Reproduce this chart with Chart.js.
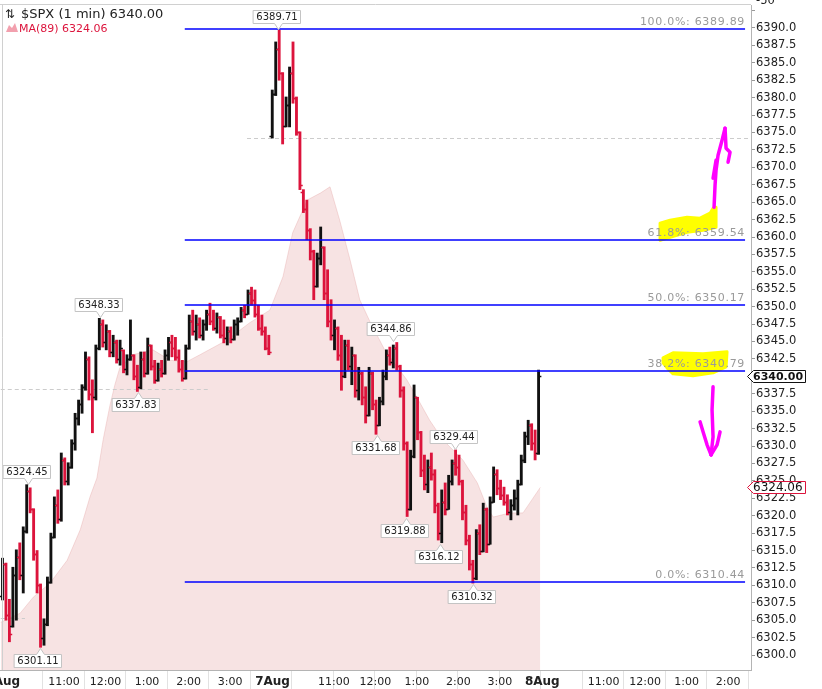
<!DOCTYPE html>
<html>
<head>
<meta charset="utf-8">
<script src="https://cdn.jsdelivr.net/npm/chart.js@4.4.1/dist/chart.umd.min.js"></script>
<style>
  html, body { margin: 0; padding: 0; background: #fff; }
  canvas { display: block; }
</style>
</head>
<body>
<canvas id="spxChart" width="822" height="689"></canvas>
<script>
const opens = [
  6308.5, 6313.0, 6305.8, 6304.2, 6311.5, 6314.0, 6311.5, 6317.8, 6323.5, 6321.0, 6314.5, 6310.0,
  6302.5, 6304.5, 6310.5, 6317.0, 6321.5, 6319.5, 6328.0, 6325.0, 6327.0, 6330.5, 6334.0, 6336.0,
  6338.5, 6342.5, 6337.5, 6337.0, 6344.0, 6347.5, 6345.0, 6346.5, 6343.5, 6345.0, 6342.5, 6343.8,
  6341.0, 6342.5, 6343.0, 6340.0, 6338.5, 6342.5, 6340.5, 6344.5, 6341.5, 6339.5, 6341.0, 6340.5,
  6343.0, 6345.0, 6344.0, 6342.8, 6341.0, 6339.8, 6344.0, 6348.0, 6346.5, 6347.5, 6346.0, 6347.5,
  6349.0, 6348.0, 6347.0, 6348.5, 6346.0, 6345.5, 6346.5, 6345.3, 6347.5, 6348.0, 6349.5, 6349.0,
  6352.0, 6351.0, 6349.0, 6347.0, 6346.5, 6344.0,
  // 7 Aug
  6374.5, 6380.5, 6387.0, 6383.5, 6376.0, 6379.0, 6383.5, 6380.0, 6375.0, 6366.5, 6364.0, 6361.0,
  6358.0, 6353.0, 6357.0, 6358.5, 6352.0, 6348.0, 6346.0, 6347.0, 6343.0, 6340.0, 6344.5, 6341.5,
  6343.0, 6338.0, 6340.5, 6337.0, 6334.5, 6340.5, 6336.0, 6333.0, 6336.5, 6340.0, 6343.0, 6342.0,
  6344.0, 6341.5, 6338.0, 6330.5, 6321.0, 6328.5, 6337.0, 6332.0, 6326.5, 6324.5, 6327.0, 6326.0,
  6321.5, 6317.5, 6322.0, 6321.0, 6325.0, 6327.5, 6327.0, 6325.0, 6320.5, 6316.5, 6313.0, 6311.0,
  6317.5, 6315.0, 6321.0, 6316.0, 6322.0, 6326.0, 6324.0, 6323.0, 6322.0, 6320.5, 6321.5, 6322.5,
  6324.5, 6328.0, 6331.5, 6333.0, 6330.5, 6329.0
];
const highs = [
  6313.9, 6313.2, 6308.0, 6312.6, 6315.1, 6316.1, 6318.4, 6324.45, 6324.0, 6321.0, 6315.0, 6310.2,
  6305.2, 6311.2, 6317.5, 6322.7, 6323.7, 6329.0, 6328.3, 6327.6, 6330.9, 6334.7, 6336.6, 6338.8,
  6343.5, 6342.8, 6339.5, 6344.5, 6348.33, 6348.1, 6347.4, 6346.6, 6345.9, 6345.2, 6345.2, 6343.8,
  6343.1, 6348.1, 6343.1, 6341.6, 6343.5, 6343.5, 6345.5, 6344.5, 6342.3, 6341.9, 6342.3, 6343.8,
  6345.6, 6345.9, 6345.6, 6343.8, 6342.3, 6344.5, 6348.8, 6349.5, 6348.8, 6348.4, 6348.1, 6349.5,
  6350.5, 6349.5, 6349.1, 6348.6, 6348.1, 6347.1, 6347.1, 6348.1, 6348.4, 6349.9, 6350.2, 6352.4,
  6352.8, 6352.4, 6350.2, 6348.8, 6347.1, 6345.9,
  // 7 Aug
  6381.1, 6388.0, 6389.71, 6383.6, 6380.1, 6384.4, 6388.0, 6380.1, 6375.1, 6366.8, 6365.3, 6361.2,
  6358.1, 6357.7, 6361.44, 6358.6, 6355.3, 6351.0, 6348.1, 6347.1, 6345.9, 6345.2, 6345.2, 6344.2,
  6343.1, 6341.3, 6340.6, 6338.5, 6341.3, 6340.6, 6336.6, 6337.0, 6340.9, 6343.8, 6344.2, 6344.5,
  6344.86, 6341.6, 6338.5, 6330.6, 6329.4, 6338.76, 6337.0, 6332.1, 6328.7, 6328.0, 6329.0, 6326.6,
  6321.8, 6323.7, 6324.7, 6325.8, 6328.0, 6329.44, 6328.7, 6325.1, 6321.5, 6317.2, 6313.6, 6318.0,
  6318.7, 6321.8, 6321.1, 6322.7, 6327.0, 6326.6, 6325.1, 6324.1, 6323.0, 6322.3, 6323.7, 6325.1,
  6328.7, 6332.0, 6333.7, 6333.2, 6332.3, 6340.9
];
const lows = [
  6307.9, 6305.0, 6301.9, 6304.0, 6305.0, 6310.8, 6308.9, 6317.5, 6320.4, 6313.6, 6308.9, 6301.11,
  6301.4, 6304.2, 6310.3, 6316.8, 6318.9, 6319.2, 6324.4, 6324.4, 6326.8, 6329.4, 6333.0, 6334.7,
  6338.0, 6336.6, 6331.9, 6336.6, 6343.8, 6344.2, 6343.8, 6342.8, 6342.8, 6341.9, 6341.6, 6340.5,
  6340.2, 6342.3, 6339.5, 6337.83, 6338.2, 6339.9, 6340.3, 6340.9, 6339.0, 6339.3, 6339.9, 6340.3,
  6342.3, 6342.8, 6342.3, 6340.6, 6339.3, 6339.6, 6343.9, 6345.9, 6345.2, 6345.5, 6345.2, 6346.6,
  6347.4, 6346.6, 6346.2, 6345.5, 6344.8, 6344.5, 6344.8, 6345.2, 6345.9, 6347.8, 6348.4, 6348.9,
  6350.2, 6348.5, 6346.6, 6345.9, 6343.8, 6343.1,
  // 7 Aug
  6374.2, 6380.3, 6382.5, 6373.35, 6375.8, 6375.8, 6379.2, 6374.6, 6366.8, 6363.5, 6359.6, 6356.7,
  6351.0, 6352.8, 6356.0, 6351.0, 6347.1, 6345.2, 6343.8, 6342.3, 6338.0, 6339.8, 6340.9, 6338.8,
  6337.0, 6336.6, 6335.9, 6333.3, 6334.3, 6335.2, 6331.68, 6332.9, 6335.9, 6339.5, 6341.6, 6341.2,
  6340.9, 6337.0, 6329.4, 6319.88, 6320.8, 6328.3, 6330.9, 6325.6, 6323.7, 6323.3, 6325.1, 6320.4,
  6316.5, 6316.12, 6320.1, 6320.9, 6324.4, 6325.8, 6324.4, 6319.4, 6315.8, 6312.2, 6310.32, 6310.8,
  6314.4, 6314.8, 6314.7, 6315.9, 6321.9, 6323.0, 6322.3, 6321.5, 6320.1, 6319.4, 6320.8, 6320.1,
  6324.4, 6327.6, 6330.2, 6329.4, 6328.0, 6328.8
];
const closes = [
  6313.0, 6305.8, 6303.0, 6311.5, 6314.0, 6311.5, 6317.8, 6323.5, 6321.0, 6314.5, 6310.0, 6302.5,
  6304.5, 6310.5, 6317.0, 6321.5, 6319.5, 6328.0, 6325.0, 6327.0, 6330.5, 6334.0, 6336.0, 6338.5,
  6342.5, 6337.5, 6337.0, 6344.0, 6347.5, 6345.0, 6346.5, 6343.5, 6345.0, 6342.5, 6344.0, 6341.0,
  6342.5, 6343.0, 6340.0, 6338.5, 6342.5, 6340.5, 6344.5, 6341.5, 6339.5, 6341.0, 6340.5, 6343.0,
  6345.0, 6344.0, 6342.8, 6341.0, 6339.8, 6344.0, 6348.0, 6346.5, 6347.5, 6346.0, 6347.5, 6349.0,
  6348.0, 6347.0, 6348.5, 6346.0, 6345.5, 6346.5, 6345.3, 6347.5, 6348.0, 6349.5, 6349.0, 6352.0,
  6351.0, 6349.0, 6347.0, 6346.5, 6344.0, 6343.5,
  // 7 Aug
  6380.5, 6387.0, 6383.5, 6376.0, 6379.0, 6383.5, 6380.0, 6375.0, 6367.5, 6364.0, 6361.0, 6358.0,
  6353.0, 6357.0, 6358.5, 6352.0, 6348.0, 6346.0, 6347.0, 6343.0, 6340.0, 6344.5, 6341.5, 6343.0,
  6338.0, 6340.5, 6337.0, 6334.5, 6340.5, 6336.0, 6333.0, 6336.5, 6340.0, 6343.0, 6342.0, 6344.0,
  6341.5, 6338.0, 6330.5, 6321.0, 6328.5, 6337.0, 6332.0, 6326.5, 6324.5, 6327.0, 6326.0, 6321.5,
  6317.5, 6322.0, 6321.0, 6325.0, 6327.5, 6327.0, 6325.0, 6320.5, 6316.5, 6313.0, 6311.0, 6317.5,
  6315.0, 6321.0, 6316.0, 6322.0, 6326.0, 6324.0, 6323.0, 6322.0, 6320.5, 6321.5, 6322.5, 6324.5,
  6328.0, 6331.5, 6333.0, 6330.5, 6329.0, 6340.0
];

// MA(89) outline, read at points along the shaded area (minutes since 6 Aug 9:30)
const maMinutes = [0, 28, 47, 71, 96, 115, 129, 139, 148, 158, 165, 172, 191, 220, 245, 269, 288, 327, 360, 389,
  408, 422, 443, 462, 476, 490, 505, 519, 534, 555, 587, 606, 620, 639, 668, 689, 703, 712, 736, 755, 780];
const maValues = [6304.7, 6306.0, 6308.3, 6310.3, 6313.6, 6318.0, 6322.7, 6325.4, 6330.9, 6335.9, 6338.8, 6341.2,
  6343.1, 6343.8, 6342.3, 6342.1, 6343.1, 6345.2, 6347.7, 6349.5, 6354.3, 6360.6, 6365.3, 6366.3, 6367.2, 6362.4,
  6356.7, 6351.0, 6347.8, 6343.8, 6339.5, 6336.2, 6333.7, 6330.9, 6328.0, 6324.7, 6321.2, 6319.8, 6320.4, 6320.4, 6324.06];

// Fibonacci retracement
const fibLevels = ['100.0%', '61.8%', '50.0%', '38.2%', '0.0%'];
const fibPrices = [6389.89, 6359.54, 6350.17, 6340.79, 6310.44];
const FIB_START = 266, FIB_END = 1076;

// high / low callouts
const noteMinutes = [401, 143.5, 39.4, 198, 56.7, 567, 544, 657, 586, 635, 683];
const notePrices = [6389.71, 6348.33, 6324.45, 6337.83, 6301.11, 6344.86, 6331.68, 6329.44, 6319.88, 6316.12, 6310.32];
const noteAbove = [true, true, true, false, false, true, false, true, false, false, false];

// dashed reference lines
const dashPrices = [6338.18, 6374.2, 6305.3];
const dashFrom = [0, 356, 0];
const dashTo = [302, 1090, 35];

// time axis
const xLabelMinutes = [0, 90, 150, 210, 270, 330, 390, 480, 540, 600, 660, 720, 780, 870, 930, 990, 1050];
const xLabelTexts = ['6Aug', '11:00', '12:00', '1:00', '2:00', '3:00', '7Aug', '11:00', '12:00', '1:00', '2:00', '3:00', '8Aug', '11:00', '12:00', '1:00', '2:00'];

const LAST_PRICE = 6340.00, LAST_MA = 6324.06;
const X_MIN = -1.1, X_MAX = 1084.6;
const Y_MIN = 6297.85, Y_MAX = 6393.3;
const UP_COLOR = '#111111', DOWN_COLOR = '#dc143c';
const FONT = '"DejaVu Sans", Verdana, sans-serif';

const barMinutes = opens.map((_, i) => i * 5 + 2.5);
const barColors = closes.map((c, i) => c >= opens[i] ? UP_COLOR : DOWN_COLOR);

// hand drawn marks, as pixel offsets from the right end of a fib level
const yellowTop = [[-85, -17], [-75, -20], [-58, -23], [-45, -22], [-35, -27], [-32, -32], [-29, -33], [-29, -13], [-42, -10], [-58, -8], [-75, -3], [-85, 0]];
const yellowMid = [[-82, -13], [-72, -18], [-42, -17], [-18, -19], [-19, -4], [-32, 2], [-52, 5], [-72, 3], [-78, -3], [-82, -8]];
const arrowUp = [
  [[-31, -33], [-30, -55], [-29, -70], [-27, -85], [-23, -100], [-20, -112]],
  [[-32, -62], [-29, -80]],
  [[-20, -112], [-19, -92], [-15, -88], [-17, -78]]
];
const arrowDown = [
  [[-32, 16], [-33, 39], [-32, 66], [-34, 84]],
  [[-45, 51], [-42, 61], [-38, 74], [-34, 84]],
  [[-25, 61], [-28, 74], [-34, 84]]
];

function polyFill(ctx, ax, ay, pts, color) {
  ctx.beginPath();
  pts.forEach(([dx, dy], i) => i ? ctx.lineTo(ax + dx, ay + dy) : ctx.moveTo(ax + dx, ay + dy));
  ctx.closePath();
  ctx.fillStyle = color;
  ctx.strokeStyle = color;
  ctx.lineWidth = 3;
  ctx.lineJoin = 'round';
  ctx.fill();
  ctx.stroke();
}

function strokes(ctx, ax, ay, paths, color) {
  ctx.strokeStyle = color;
  ctx.lineWidth = 3.5;
  ctx.lineCap = 'round';
  ctx.lineJoin = 'round';
  paths.forEach(p => {
    ctx.beginPath();
    p.forEach(([dx, dy], i) => i ? ctx.lineTo(ax + dx, ay + dy) : ctx.moveTo(ax + dx, ay + dy));
    ctx.stroke();
  });
}

function drawNote(ctx, px, py, text, above) {
  ctx.font = '10px ' + FONT;
  const w = Math.round(ctx.measureText(text).width) + 6, h = 13;
  const bx = Math.round(px - w / 2 - 2) + 0.5;
  px = Math.round(px) + 0.5;
  let top, tipY;
  ctx.beginPath();
  if (above) {
    tipY = Math.round(py) - 0.5;
    top = tipY - 6 - h;
    ctx.moveTo(bx, top); ctx.lineTo(bx + w, top); ctx.lineTo(bx + w, top + h);
    ctx.lineTo(px + 4, top + h); ctx.lineTo(px, tipY); ctx.lineTo(px - 4, top + h);
    ctx.lineTo(bx, top + h);
  } else {
    tipY = Math.round(py) + 1.5;
    top = tipY + 6;
    ctx.moveTo(bx, top); ctx.lineTo(px - 4, top); ctx.lineTo(px, tipY); ctx.lineTo(px + 4, top);
    ctx.lineTo(bx + w, top); ctx.lineTo(bx + w, top + h); ctx.lineTo(bx, top + h);
  }
  ctx.closePath();
  ctx.fillStyle = '#fff';
  ctx.fill();
  ctx.strokeStyle = '#c4c4c4';
  ctx.lineWidth = 1;
  ctx.stroke();
  ctx.fillStyle = '#222';
  ctx.textAlign = 'center';
  ctx.textBaseline = 'middle';
  ctx.fillText(text, bx + w / 2, top + h / 2 + 0.5);
}

function axisTag(ctx, py, text, border, bold) {
  const y0 = Math.round(py) + 0.5;
  ctx.beginPath();
  ctx.moveTo(747.5, y0);
  ctx.lineTo(753.5, y0 - 6);
  ctx.lineTo(805.5, y0 - 6);
  ctx.lineTo(805.5, y0 + 6);
  ctx.lineTo(753.5, y0 + 6);
  ctx.closePath();
  ctx.fillStyle = '#fff';
  ctx.fill();
  ctx.strokeStyle = border;
  ctx.lineWidth = 1;
  ctx.stroke();
  ctx.fillStyle = '#111';
  ctx.font = (bold ? 'bold 11px ' : '12px ') + FONT;
  ctx.textAlign = 'left';
  ctx.textBaseline = 'middle';
  ctx.fillText(text, 753, y0 + 0.5);
}

const overlay = {
  id: 'overlay',
  afterDatasetDraw(chart, args) {
    if (args.index !== 0) return;
    // dashed reference lines sit over the MA shading, under the bars
    const { ctx, scales: { x, y } } = chart;
    ctx.save();
    ctx.strokeStyle = '#cccccc';
    ctx.lineWidth = 1;
    ctx.setLineDash([4, 3]);
    dashPrices.forEach((p, i) => {
      const py = Math.round(y.getPixelForValue(p)) + 0.5;
      ctx.beginPath();
      ctx.moveTo(x.getPixelForValue(dashFrom[i]), py);
      ctx.lineTo(Math.min(x.getPixelForValue(dashTo[i]), chart.chartArea.right), py);
      ctx.stroke();
    });
    ctx.restore();
  },
  afterDatasetsDraw(chart) {
    const { ctx, scales: { x, y } } = chart;
    ctx.save();
    // open / close ticks of each bar
    ctx.lineWidth = 1.3;
    barMinutes.forEach((m, i) => {
      const px = x.getPixelForValue(m);
      const yo = Math.round(y.getPixelForValue(opens[i])) + 0.5;
      const yc = Math.round(y.getPixelForValue(closes[i])) + 0.5;
      ctx.strokeStyle = barColors[i];
      ctx.beginPath();
      ctx.moveTo(px - 2.8, yo); ctx.lineTo(px, yo);
      ctx.moveTo(px, yc); ctx.lineTo(px + 2.8, yc);
      ctx.stroke();
    });

    const ex = x.getPixelForValue(FIB_END);
    const y618 = y.getPixelForValue(fibPrices[1]);
    const y382 = y.getPixelForValue(fibPrices[3]);
    polyFill(ctx, ex, y618, yellowTop, '#ffff00');
    polyFill(ctx, ex, y382, yellowMid, '#ffff00');

    // fib lines and labels
    const sx = x.getPixelForValue(FIB_START);
    fibPrices.forEach((p, i) => {
      const py = Math.round(y.getPixelForValue(p));
      ctx.strokeStyle = '#0000ff';
      ctx.lineWidth = 1.6;
      ctx.beginPath();
      ctx.moveTo(sx, py);
      ctx.lineTo(ex, py);
      ctx.stroke();
      ctx.font = '11px ' + FONT;
      ctx.letterSpacing = '0.7px';
      ctx.fillStyle = '#9a9a9a';
      ctx.textAlign = 'right';
      ctx.textBaseline = 'alphabetic';
      ctx.fillText(fibLevels[i] + ': ' + p.toFixed(2), ex, py - 4);
      ctx.letterSpacing = '0px';
    });

    strokes(ctx, ex, y618, arrowUp, '#ff00ff');
    strokes(ctx, ex, y382, arrowDown, '#ff00ff');

    notePrices.forEach((p, i) => {
      drawNote(ctx, x.getPixelForValue(noteMinutes[i]), y.getPixelForValue(p), p.toFixed(2), noteAbove[i]);
    });
    ctx.restore();
  },
  afterDraw(chart) {
    const { ctx, chartArea, scales: { x, y } } = chart;
    ctx.save();
    // panel borders
    ctx.strokeStyle = '#d0d0d0';
    ctx.lineWidth = 1;
    ctx.beginPath();
    ctx.moveTo(0, 4.5); ctx.lineTo(chartArea.right, 4.5);
    ctx.moveTo(2.5, 4.5); ctx.lineTo(2.5, chartArea.bottom);
    ctx.stroke();

    // time labels with half-hour separators
    ctx.strokeStyle = '#e2e2e2';
    for (let m = 60; m < X_MAX; m += 60) {
      const px = Math.round(x.getPixelForValue(m)) + 0.5;
      ctx.beginPath();
      ctx.moveTo(px, chartArea.bottom + 1);
      ctx.lineTo(px, 689);
      ctx.stroke();
    }
    ctx.textAlign = 'center';
    ctx.textBaseline = 'alphabetic';
    ctx.fillStyle = '#222';
    xLabelMinutes.forEach((m, i) => {
      const isDate = xLabelTexts[i].indexOf('Aug') >= 0;
      ctx.font = (isDate ? 'bold 12px ' : '11px ') + FONT;
      ctx.fillText(xLabelTexts[i], x.getPixelForValue(m) + (isDate ? 2 : 1), 685);
    });

    // top-left title
    ctx.textAlign = 'left';
    ctx.fillStyle = '#222';
    ctx.font = '12px ' + FONT;
    ctx.fillText('\u21C5', 5, 18);
    ctx.font = '13px ' + FONT;
    ctx.fillText('$SPX (1 min) ' + LAST_PRICE.toFixed(2), 21, 18);
    ctx.fillStyle = '#f2a0ae';
    ctx.beginPath();
    ctx.moveTo(6, 32); ctx.lineTo(9, 25); ctx.lineTo(12, 28); ctx.lineTo(15, 23); ctx.lineTo(18, 32);
    ctx.closePath();
    ctx.fill();
    ctx.fillStyle = DOWN_COLOR;
    ctx.font = '11px ' + FONT;
    ctx.fillText('MA(89) ' + LAST_MA.toFixed(2), 19, 32);

    // cut-off label of the panel above
    ctx.fillStyle = '#222';
    ctx.font = '11.5px ' + FONT;
    ctx.fillText('-50', 756, 4);

    axisTag(ctx, y.getPixelForValue(LAST_PRICE), LAST_PRICE.toFixed(2), '#111', true);
    axisTag(ctx, y.getPixelForValue(LAST_MA), LAST_MA.toFixed(2), DOWN_COLOR, false);
    ctx.restore();
  }
};

new Chart(document.getElementById('spxChart'), {
  type: 'bar',
  data: {
    datasets: [
      {
        type: 'line',
        data: maMinutes.map((m, i) => ({ x: m, y: maValues[i] })),
        fill: 'start',
        backgroundColor: '#f7e3e3',
        borderColor: 'rgba(226, 160, 160, 0.35)',
        borderWidth: 1,
        pointRadius: 0,
        tension: 0,
        order: 2
      },
      {
        type: 'bar',
        data: barMinutes.map((m, i) => ({ x: m, y: [lows[i], highs[i]] })),
        backgroundColor: barColors,
        borderWidth: 0,
        barThickness: 2.2,
        grouped: false,
        order: 1
      }
    ]
  },
  options: {
    responsive: false,
    animation: false,
    events: [],
    devicePixelRatio: 1,
    layout: { padding: { top: 5, left: 0, right: 0, bottom: 0 } },
    plugins: { legend: { display: false }, tooltip: { enabled: false } },
    scales: {
      x: {
        type: 'linear',
        min: X_MIN,
        max: X_MAX,
        offset: false,
        grid: { display: false, offset: false },
        border: { display: true, color: '#b4b4b4' },
        ticks: { display: false },
        afterFit(s) { s.height = 19; s.paddingLeft = 0; s.paddingRight = 0; }
      },
      y: {
        position: 'right',
        min: Y_MIN,
        max: Y_MAX,
        grid: { drawOnChartArea: false, drawTicks: true, tickLength: 4, color: '#999' },
        border: { display: true, color: '#b4b4b4' },
        ticks: {
          stepSize: 2.5,
          includeBounds: false,
          padding: 1,
          color: '#222',
          font: { family: 'DejaVu Sans', size: 11.5 },
          callback: v => v > 6390.01 ? '' : v.toFixed(1)
        },
        afterFit(s) { s.width = 71; s.paddingTop = 0; s.paddingBottom = 0; }
      }
    }
  },
  plugins: [overlay]
});
</script>
</body>
</html>
